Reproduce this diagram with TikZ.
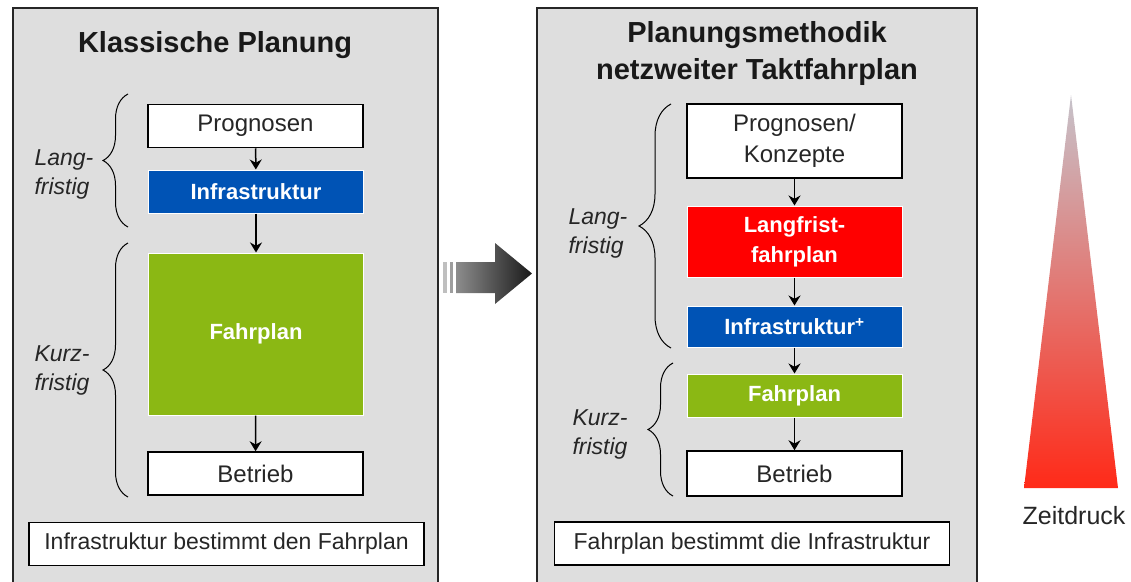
\documentclass[tikz,border=0pt]{standalone}
\usepackage{fontspec}
\setmainfont{Liberation Sans}
\usetikzlibrary{arrows.meta,shapes,decorations.pathreplacing}
\definecolor{panelgray}{HTML}{DEDEDE}
\definecolor{dbblue}{HTML}{0053B5}
\definecolor{dbred}{HTML}{FF0000}
\definecolor{dbgreen}{HTML}{8BB814}
\definecolor{txtgray}{HTML}{262626}
\definecolor{tipgray}{HTML}{C6C3CB}
\definecolor{midpink}{HTML}{E29CA2}
\definecolor{basered}{HTML}{FF2A18}
\tikzstyle{panel}=[draw=black!85, line width=2pt, fill=panelgray]
\tikzstyle{title}=[font=\bfseries\fontsize{29}{37}\selectfont, text=black!90, align=center]
\tikzstyle{whitebox}=[rectangle, draw=black, line width=1.5pt, fill=white
,text=txtgray, font=\fontsize{24}{31}\selectfont, align=center
,inner sep=0pt, minimum width=215pt, minimum height=43pt
]
\tikzstyle{colbox}=[rectangle, draw=white, line width=1pt
,text=white, font=\bfseries\fontsize{22}{30}\selectfont, align=center
,inner sep=0pt, minimum width=215pt, minimum height=43pt
]
\tikzstyle{notebox}=[rectangle, draw=black, line width=1.5pt, fill=white
,text=txtgray, font=\fontsize{23}{26}\selectfont
,inner sep=0pt, minimum width=395pt, minimum height=43pt
]
\tikzstyle{term}=[font=\itshape\fontsize{23}{29}\selectfont, align=left, text=txtgray]
\tikzstyle{flow} = [draw, line width=1.5pt, -{Stealth[length=10pt,width=12pt]}]
\tikzstyle{bracket} = [draw, line width=1pt, decorate]

\begin{document}
\begin{tikzpicture}[x=1pt, y=-1pt]
    \useasboundingbox (0,0) rectangle (1131,581);

    % The two grey panels
    \draw[panel] (13,8) rectangle (438,600);
    \draw[panel] (537,8) rectangle (977,600);
    \node[title] (title1) at (215,45) {Klassische Planung};
    \node[title] (title2) at (757,53) {Planungsmethodik\\netzweiter Taktfahrplan};

    % Left: classic planning
    \foreach \pos/\name/\txt in {{(255.5,126)/prog1/Prognosen}, {(255.5,473.5)/betr1/Betrieb}}
        \node[whitebox] (\name) at \pos {\txt};
    \node[colbox, fill=dbblue] (infra1) at (256,191.5) {Infrastruktur};
    \node[colbox, fill=dbgreen, minimum height=162pt] (fahr1) at (256,334) {Fahrplan};
    \node[notebox] (note1) at (226.5,544) {Infrastruktur bestimmt den Fahrplan};

    % Right: network-wide clock-face timetable
    \node[whitebox, minimum height=74pt] (prog2) at (794.5,141) {Prognosen/\\Konzepte};
    \node[colbox, fill=dbred, minimum height=71pt] (lang2) at (794.5,241.5) {Langfrist-\\fahrplan};
    \node[colbox, fill=dbblue, minimum height=41pt] (infra2) at (794.5,326.5) {Infrastruktur\textsuperscript{+}};
    \node[colbox, fill=dbgreen] (fahr2) at (794.5,395.5) {Fahrplan};
    \node[whitebox, minimum height=45pt] (betr2) at (794.5,473.5) {Betrieb};
    \node[notebox] (note2) at (752,543.5) {Fahrplan bestimmt die Infrastruktur};

    % Connect boxes with arrows
    \foreach \source/ \dest in {prog1/infra1, infra1/fahr1, fahr1/betr1, prog2/lang2, lang2/infra2, infra2/fahr2, fahr2/betr2}
        \path[flow] (\source) -- (\dest);

    % Braces and their labels
    \path[bracket, decoration={brace, amplitude=25pt}] (128,227) -- (128,94);
    \path[bracket, decoration={brace, amplitude=25pt}] (128,497) -- (128,243);
    \path[bracket, decoration={brace, amplitude=32pt}] (671,348) -- (671,104);
    \path[bracket, decoration={brace, amplitude=25pt}] (673,496) -- (673,363);
    \node[term] (lang1) at (64,174) {Lang-\\fristig};
    \node[term] (kurz1) at (62,370) {Kurz-\\fristig};
    \node[term] (lang2t) at (598,233) {Lang-\\fristig};
    \node[term] (kurz2t) at (600,434) {Kurz-\\fristig};

    % Transition arrow
    \fill[black!25] (443,262) rectangle (447,293);
    \fill[black!38] (450,262) rectangle (453,293);
    \shade[left color=black!45, right color=black!90]
        (456,262) -- (495,262) -- (495,243) -- (532,273.5) -- (495,304) -- (495,293) -- (456,293) -- cycle;

    % Time pressure wedge
    \shade[top color=tipgray, middle color=midpink, bottom color=basered] (1071,95) -- (1118,488) -- (1024,488) -- cycle;
    \node[font=\fontsize{25}{28}\selectfont, text=txtgray] (zeit) at (1074,516) {Zeitdruck};
\end{tikzpicture}
\end{document}
